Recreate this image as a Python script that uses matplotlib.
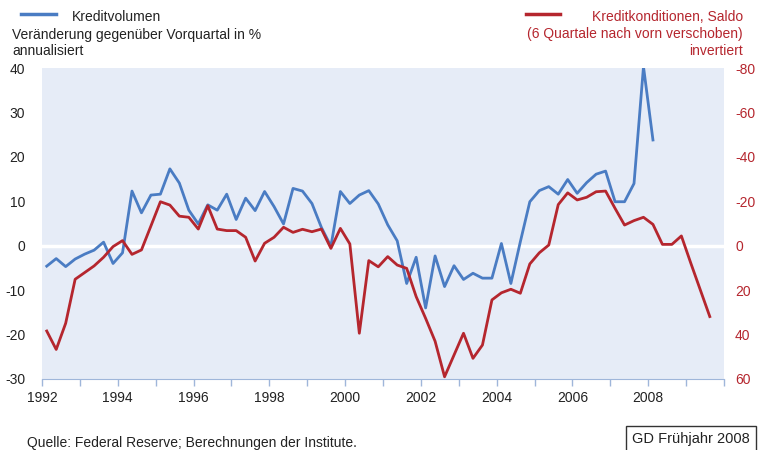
import numpy as np
import matplotlib.pyplot as plt

plt.rcParams['font.family'] = ['Liberation Sans', 'DejaVu Sans']
plt.rcParams['axes.unicode_minus'] = False

# Kreditvolumen, Veränderung gegenüber Vorquartal in % annualisiert, 1992Q1-2008Q1
kreditvolumen = [-4.6, -2.9, -4.7, -3.0, -1.9, -1.0, 0.8, -4.0, -1.6, 12.3,
                 7.4, 11.4, 11.6, 17.3, 14.1, 8.0, 4.9, 9.2, 8.0, 11.6,
                 5.9, 10.7, 7.9, 12.2, 8.8, 4.9, 12.9, 12.3, 9.5, 4.1,
                 -0.1, 12.2, 9.5, 11.4, 12.4, 9.4, 4.7, 1.1, -8.5, -2.6,
                 -14.0, -2.3, -9.2, -4.5, -7.6, -6.2, -7.3, -7.3, 0.5, -8.5,
                 0.9, 9.9, 12.4, 13.3, 11.6, 14.9, 11.8, 14.2, 16.1, 16.8,
                 9.9, 9.9, 14.0, 40.3, 23.8]

# Kreditkonditionen, Saldo (6 Quartale verschoben), 1992Q1-2009Q3
kreditkonditionen = [38.4, 46.7, 34.9, 15.1, 12.1, 9.1, 5.2, 0.4, -2.3, 3.9,
                     1.9, -8.9, -19.8, -18.3, -13.3, -12.8, -7.5, -18.0, -7.5, -6.8,
                     -6.8, -3.8, 6.9, -1.1, -3.8, -8.3, -6.0, -7.4, -6.3, -7.5,
                     1.2, -7.8, -0.8, 39.4, 6.7, 9.5, 4.9, 8.7, 10.2, 22.9,
                     32.7, 43.0, 59.0, 49.2, 39.4, 50.7, 44.7, 24.4, 21.2, 19.6,
                     21.4, 8.2, 3.2, -0.3, -18.5, -23.8, -20.6, -21.8, -24.3, -24.6,
                     -16.8, -9.3, -11.3, -12.8, -9.6, -0.6, -0.6, -4.4, 7.9, 19.9,
                     31.9]

start_year = 1992
t_blue = start_year + 0.125 + 0.25 * np.arange(len(kreditvolumen))
t_red = start_year + 0.125 + 0.25 * np.arange(len(kreditkonditionen))

blue = "#4a7cc3"
red = "#b5262e"
txt = "#222222"

fig = plt.figure(figsize=(7.61, 4.5), dpi=100)
ax = fig.add_axes([42/761, 1-379/450, (724-42)/761, (379-68)/450])
ax.set_facecolor("#e6ecf7")

ax.axhline(0, color="white", lw=2.5, zorder=1)
ax.plot(t_blue, kreditvolumen, color=blue, lw=2.0, zorder=3)

ax.set_xlim(1992, 2010)
ax.set_ylim(-30, 40)
ax.set_yticks(range(-30, 41, 10))
years = list(range(1992, 2011))
ax.set_xticks(years)
ax.set_xticklabels([str(y) if (y % 2 == 0 and y <= 2008) else "" for y in years])
ax.tick_params(axis="x", direction="out", length=5, color="#9fb6da", width=1,
               labelsize=10, labelcolor=txt, pad=4)
ax.tick_params(axis="y", length=0, labelsize=10, labelcolor=txt, pad=12)
for s in ["top", "left", "right"]:
    ax.spines[s].set_visible(False)
ax.spines["bottom"].set_color("#9fb6da")

ax2 = ax.twinx()
ax2.plot(t_red, kreditkonditionen, color=red, lw=2.0, zorder=3)
ax2.set_ylim(60, -80)
ax2.set_yticks(range(-80, 61, 20))
ax2.tick_params(axis="y", length=0, labelsize=10, labelcolor=red, pad=8)
for s in ["top", "left", "right", "bottom"]:
    ax2.spines[s].set_visible(False)

# legend / headers
fig.add_artist(plt.Line2D([21/761, 56/761], [1-14/450, 1-14/450], color=blue, lw=2.5))
fig.text(72/761, 1-17/450, "Kreditvolumen", fontsize=10, color=txt, va="center")
fig.text(12/761, 1-35/450, "Veränderung gegenüber Vorquartal in %", fontsize=10,
         color=txt, va="center")
fig.text(12/761, 1-51/450, "annualisiert", fontsize=10, color=txt, va="center")

fig.add_artist(plt.Line2D([526/761, 560/761], [1-14/450, 1-14/450], color=red, lw=2.5))
fig.text(743/761, 1-17/450, "Kreditkonditionen, Saldo", fontsize=10, color=red,
         va="center", ha="right")
fig.text(743/761, 1-34/450, "(6 Quartale nach vorn verschoben)", fontsize=10,
         color=red, va="center", ha="right")
fig.text(743/761, 1-51/450, "invertiert", fontsize=10, color=red, va="center", ha="right")

fig.text(27/761, 1-443/450, "Quelle: Federal Reserve; Berechnungen der Institute.",
         fontsize=10, color=txt, va="center")
fig.text(750/761, 1-439/450, "GD Frühjahr 2008", fontsize=10.5, color=txt,
         va="center", ha="right",
         bbox=dict(boxstyle="square,pad=0.4", facecolor="white", edgecolor="#333333", lw=1))

plt.savefig("out.png", dpi=100)
